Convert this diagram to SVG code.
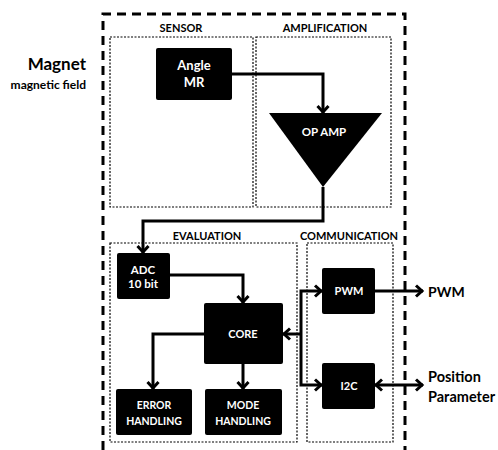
<svg xmlns="http://www.w3.org/2000/svg" width="498" height="450" viewBox="0 0 498 450">
<defs>
<style>
.frame{fill:none;stroke:#000;stroke-width:3;stroke-dasharray:9 6}
.grp{fill:none;stroke:#000;stroke-width:1.2;stroke-dasharray:2 1.5}
.blk{fill:#000}
.wt{fill:#fff;font-family:Lato,"Liberation Sans",sans-serif;font-weight:bold;text-anchor:middle}
.lbl{fill:#000;font-family:Lato,"Liberation Sans",sans-serif;font-weight:bold}
.con{fill:none;stroke:#000;stroke-width:3;stroke-linejoin:miter}
</style>
<marker id="ah" markerUnits="userSpaceOnUse" markerWidth="14" markerHeight="14" viewBox="0 0 14 14" refX="10" refY="7" orient="auto-start-reverse">
<path d="M3,1.5 L9,7 L3,12.5" fill="none" stroke="#000" stroke-width="3"/>
</marker>
</defs>
<rect width="498" height="450" fill="#fff"/>

<path class="frame" d="M103,450 L103,14 L405,14 L405,450"/>

<g id="sensor">
<rect class="grp" x="110" y="37" width="143" height="170"/>
<text class="lbl" x="181" y="32" font-size="11" text-anchor="middle">SENSOR</text>
</g>
<g id="amplification">
<rect class="grp" x="256" y="37" width="135" height="170"/>
<text class="lbl" x="325" y="32" font-size="11" text-anchor="middle">AMPLIFICATION</text>
</g>
<g id="evaluation">
<rect class="grp" x="110" y="243" width="187" height="199"/>
<text class="lbl" x="207" y="240" font-size="11" text-anchor="middle">EVALUATION</text>
</g>
<g id="communication">
<rect class="grp" x="307" y="243" width="86" height="199"/>
<text class="lbl" x="349" y="240" font-size="11" text-anchor="middle">COMMUNICATION</text>
</g>

<g id="magnet">
<text class="lbl" x="86" y="70" font-size="17" text-anchor="end">Magnet</text>
<text class="lbl" x="86" y="89" font-size="12" text-anchor="end">magnetic field</text>
</g>

<g id="angle-mr">
<rect class="blk" x="156" y="48" width="76" height="52" rx="2"/>
<text class="wt" x="194" y="70" font-size="13">Angle</text>
<text class="wt" x="194" y="87" font-size="13">MR</text>
</g>

<g id="op-amp">
<polygon class="blk" points="269,113 382,113 323,187"/>
<text class="wt" x="324" y="136" font-size="11.5">OP AMP</text>
</g>

<g id="adc">
<rect class="blk" x="117" y="253" width="53" height="46" rx="2"/>
<text class="wt" x="143" y="274" font-size="11.5">ADC</text>
<text class="wt" x="143" y="288" font-size="11.5">10 bit</text>
</g>

<g id="core">
<rect class="blk" x="204" y="303" width="79" height="61" rx="2"/>
<text class="wt" x="243" y="338" font-size="11">CORE</text>
</g>

<g id="error-handling">
<rect class="blk" x="116" y="389" width="76" height="46" rx="2"/>
<text class="wt" x="154" y="409" font-size="10.5">ERROR</text>
<text class="wt" x="154" y="425" font-size="10.5">HANDLING</text>
</g>

<g id="mode-handling">
<rect class="blk" x="205" y="389" width="77" height="46" rx="2"/>
<text class="wt" x="243" y="409" font-size="10.5">MODE</text>
<text class="wt" x="243" y="425" font-size="10.5">HANDLING</text>
</g>

<g id="pwm">
<rect class="blk" x="322" y="268" width="53" height="46" rx="2"/>
<text class="wt" x="349" y="295" font-size="11">PWM</text>
</g>

<g id="i2c">
<rect class="blk" x="322" y="363" width="53" height="46" rx="2"/>
<text class="wt" x="349" y="390" font-size="11">I2C</text>
</g>

<g id="outputs">
<text class="lbl" x="428" y="297" font-size="14">PWM</text>
<text class="lbl" x="428" y="382" font-size="14.5">Position</text>
<text class="lbl" x="428" y="402" font-size="14.5">Parameter</text>
</g>

<g id="connectors">
<path class="con" d="M232,74 L323,74 L323,113" marker-end="url(#ah)"/>
<path class="con" d="M323,187 L323,221 L143,221 L143,253" marker-end="url(#ah)"/>
<path class="con" d="M170,275 L243,275 L243,303" marker-end="url(#ah)"/>
<path class="con" d="M204,334 L153,334 L153,389" marker-end="url(#ah)"/>
<path class="con" d="M243,364 L243,389" marker-end="url(#ah)"/>
<path class="con" d="M322,291 L301,291 L301,385 L322,385" marker-start="url(#ah)" marker-end="url(#ah)"/>
<path class="con" d="M301,334 L283,334" marker-end="url(#ah)"/>
<path class="con" d="M375,291 L423,291" marker-end="url(#ah)"/>
<path class="con" d="M375,385 L423,385" marker-start="url(#ah)" marker-end="url(#ah)"/>
</g>
</svg>
